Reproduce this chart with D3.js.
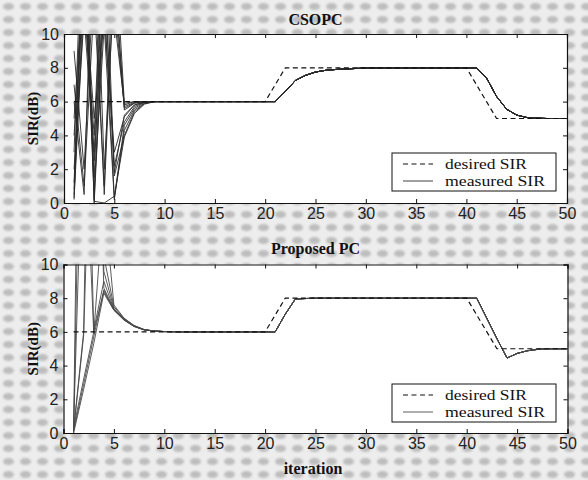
<!DOCTYPE html>
<html>
<head>
<meta charset="utf-8">
<script src="https://cdn.jsdelivr.net/npm/d3@7"></script>
<style>
  html, body { margin: 0; padding: 0; background: #ebebeb; }
  svg { display: block; }
</style>
</head>
<body>
<div id="chart"></div>
<script>
// ---------------- DATA ----------------
const xTicks = [0, 5, 10, 15, 20, 25, 30, 35, 40, 45, 50];
const yTicks = [0, 2, 4, 6, 8, 10];
const titles = ["CSOPC", "Proposed PC"];
const legendLabels = ["desired SIR", "measured SIR"];

// desired SIR, iterations 1..50
const desiredSIR = [
  6, 6, 6, 6, 6, 6, 6, 6, 6, 6,
  6, 6, 6, 6, 6, 6, 6, 6, 6, 6,
  7, 8, 8, 8, 8, 8, 8, 8, 8, 8,
  8, 8, 8, 8, 8, 8, 8, 8, 8, 8,
  7, 6, 5, 5, 5, 5, 5, 5, 5, 5
];

// CSOPC: per-user transients, iterations 1..9
const csopcTransients = [
  [0.3, 15, 0.2, 14, 1.6, 4.0, 5.4, 5.88, 6],
  [0.8, 18, 0.0, 12, 0.3, 4.6, 5.6, 5.95, 6],
  [4.0, 13, 1.5, 16, 11, 5.8, 6.0, 6.0, 6],
  [9.0, 2.0, 14, 0.5, 14, 5.5, 5.9, 6.0, 6],
  [2.0, 11, 3.0, 17, 1.8, 5.2, 5.8, 5.98, 6],
  [6.0, 0.5, 19, 2.0, 13, 5.7, 5.95, 6.0, 6],
  [1.2, 16, 0.8, 10.5, 0.2, 4.3, 5.5, 5.9, 6],
  [7.0, 1.0, 12, 1.0, 16, 5.9, 6.0, 6.0, 6],
  [0.5, 13, 5.0, 11, 3.0, 5.1, 5.8, 5.97, 6],
  [3.0, 20, 0.1, 0.0, 0.4, 3.9, 5.3, 5.85, 6],
  [5.0, 14, 2.5, 13, 2.2, 4.8, 5.7, 5.96, 6],
  [0.2, 12, 4.0, 18, 12, 5.6, 5.92, 6.0, 6]
];
// CSOPC: common measured SIR, iterations 10..50
const csopcSteady = [
  6, 6, 6, 6, 6, 6, 6, 6, 6, 6, 6, 6,
  6.6, 7.25, 7.55, 7.75, 7.85, 7.9, 7.93, 7.96, 7.98,
  8, 8, 8, 8, 8, 8, 8, 8, 8, 8, 8,
  7.4, 6.3, 5.55, 5.2, 5.06, 5.02, 5.0, 5.0, 5.0
];

// Proposed PC: per-user transients, iterations 1..9
const proposedTransients = [
  [0.0, 45, 30, 8.6, 7.35, 6.75, 6.35, 6.13, 6.05],
  [0.1, 2.9, 5.7, 8.5, 7.3, 6.72, 6.33, 6.12, 6.05],
  [0.3, 3.2, 6.0, 8.4, 7.3, 6.72, 6.33, 6.12, 6.05],
  [0.0, 2.6, 5.3, 8.3, 7.28, 6.7, 6.32, 6.12, 6.05],
  [0.2, 6.0, 40, 9.6, 7.4, 6.76, 6.35, 6.13, 6.05],
  [0.1, 5.8, 25, 10.5, 7.5, 6.8, 6.37, 6.14, 6.05],
  [0.0, 30, 6.1, 9.0, 7.35, 6.74, 6.34, 6.13, 6.05],
  [0.4, 20, 5.9, 14, 7.6, 6.82, 6.38, 6.14, 6.05]
];
// Proposed PC: common measured SIR, iterations 10..50
const proposedSteady = [
  6.02, 6.01, 6, 6, 6, 6, 6, 6, 6, 6, 6, 6,
  7.05, 7.95, 7.98,
  8, 8, 8, 8, 8, 8, 8, 8, 8, 8, 8, 8, 8, 8, 8, 8, 8,
  6.8, 5.6, 4.45, 4.72, 4.88, 4.96, 5.0, 5.0, 5.0
];

// ---------------- DRAW ----------------
const W = 588, H = 480;
const svg = d3.select("#chart").append("svg").attr("width", W).attr("height", H);

const defs = svg.append("defs");
const blur = defs.append("filter").attr("id", "soft").attr("x", "-50%").attr("y", "-50%").attr("width", "200%").attr("height", "200%");
blur.append("feGaussianBlur").attr("stdDeviation", 1.2);
const pat = defs.append("pattern").attr("id", "halftone")
  .attr("patternUnits", "userSpaceOnUse").attr("width", 17).attr("height", 13);
pat.append("rect").attr("width", 17).attr("height", 13).attr("fill", "#ededed");
pat.append("ellipse").attr("cx", 8.5).attr("cy", 6.5).attr("rx", 5.5).attr("ry", 3.6)
  .attr("fill", "#bdbdbd").attr("filter", "url(#soft)");
svg.append("rect").attr("width", W).attr("height", H).attr("fill", "url(#halftone)");

const panels = [
  { title: titles[0], transients: csopcTransients, steady: csopcSteady,
    x0: 64, x1: 567, yTop: 34, yBot: 203, titleY: 25, legendY: 153, xlabel: null, stroke: "#2a2a2a" },
  { title: titles[1], transients: proposedTransients, steady: proposedSteady,
    x0: 63.5, x1: 567.5, yTop: 264.5, yBot: 433, titleY: 254, legendY: 384, xlabel: "iteration", stroke: "#4a4a4a" }
];

const serif = "'Liberation Serif', 'Times New Roman', serif";

panels.forEach((p, pi) => {
  const x = d3.scaleLinear().domain([0, 50]).range([p.x0, p.x1]);
  const y = d3.scaleLinear().domain([0, 10]).range([p.yBot, p.yTop]);
  const g = svg.append("g");

  g.append("rect").attr("x", p.x0).attr("y", p.yTop)
    .attr("width", p.x1 - p.x0).attr("height", p.yBot - p.yTop).attr("fill", "#fff");

  const clipId = "clip" + pi;
  defs.append("clipPath").attr("id", clipId).append("rect")
    .attr("x", p.x0).attr("y", p.yTop).attr("width", p.x1 - p.x0).attr("height", p.yBot - p.yTop);

  const plot = g.append("g").attr("clip-path", `url(#${clipId})`);
  const line = d3.line().x(d => x(d[0])).y(d => y(d[1]));

  // measured SIR: each user = its transient + common steady part
  p.transients.forEach(tr => {
    const vals = tr.concat(p.steady);
    const pts = vals.map((v, i) => [i + 1, v]);
    plot.append("path").attr("d", line(pts)).attr("fill", "none")
      .attr("stroke", p.stroke).attr("stroke-width", 0.9);
  });

  // desired SIR
  plot.append("path").attr("d", line(desiredSIR.map((v, i) => [i + 1, v])))
    .attr("fill", "none").attr("stroke", "#111").attr("stroke-width", 1.2)
    .attr("stroke-dasharray", "5,3.5");

  // axes
  const axB = d3.axisBottom(x).tickValues(xTicks).tickSize(-4).tickPadding(5).tickFormat(d3.format("d"));
  const axT = d3.axisTop(x).tickValues(xTicks).tickSize(-4).tickFormat("");
  const axL = d3.axisLeft(y).tickValues(yTicks).tickSize(-4).tickPadding(5).tickFormat(d3.format("d"));
  const axR = d3.axisRight(y).tickValues(yTicks).tickSize(-4).tickFormat("");
  const axes = [
    g.append("g").attr("transform", `translate(0,${p.yBot})`).call(axB),
    g.append("g").attr("transform", `translate(0,${p.yTop})`).call(axT),
    g.append("g").attr("transform", `translate(${p.x0},0)`).call(axL),
    g.append("g").attr("transform", `translate(${p.x1},0)`).call(axR)
  ];
  axes.forEach(a => {
    a.select(".domain").attr("stroke", "#111").attr("stroke-width", 1.2);
    a.selectAll(".tick line").attr("stroke", "#111");
    a.selectAll("text").attr("fill", "#222")
      .style("font-family", "'Liberation Sans', Arial, sans-serif").style("font-size", "16px");
  });

  // title
  svg.append("text").attr("x", (p.x0 + p.x1) / 2).attr("y", p.titleY)
    .attr("text-anchor", "middle")
    .style("font-family", serif)
    .style("font-weight", "bold").style("font-size", "16px").attr("fill", "#111")
    .text(p.title);

  // y label
  svg.append("text")
    .attr("transform", `translate(38,${(p.yTop + p.yBot) / 2}) rotate(-90)`)
    .attr("text-anchor", "middle")
    .style("font-family", serif)
    .style("font-weight", "bold").style("font-size", "15px").attr("fill", "#111")
    .text("SIR(dB)");

  if (p.xlabel) {
    svg.append("text").attr("x", 313).attr("y", 474)
      .attr("text-anchor", "middle")
      .style("font-family", serif)
      .style("font-weight", "bold").style("font-size", "16px").attr("fill", "#111")
      .text(p.xlabel);
  }

  // legend
  const lg = svg.append("g").attr("transform", `translate(392,${p.legendY})`);
  lg.append("rect").attr("width", 164).attr("height", 38)
    .attr("fill", "#fff").attr("stroke", "#111").attr("stroke-width", 1);
  const labelWidths = [82, 100];
  legendLabels.forEach((lab, i) => {
    const yy = 11 + i * 17;
    lg.append("line").attr("x1", 11).attr("x2", 41).attr("y1", yy).attr("y2", yy)
      .attr("stroke", i === 0 ? "#111" : p.stroke).attr("stroke-width", i === 0 ? 1.2 : 0.9)
      .attr("stroke-dasharray", i === 0 ? "5,3.5" : null);
    lg.append("text").attr("x", 53).attr("y", yy + 4.5)
      .attr("textLength", labelWidths[i]).attr("lengthAdjust", "spacingAndGlyphs")
      .style("font-family", serif)
      .style("font-size", "15px").attr("fill", "#111")
      .text(lab);
  });
});
</script>
</body>
</html>
